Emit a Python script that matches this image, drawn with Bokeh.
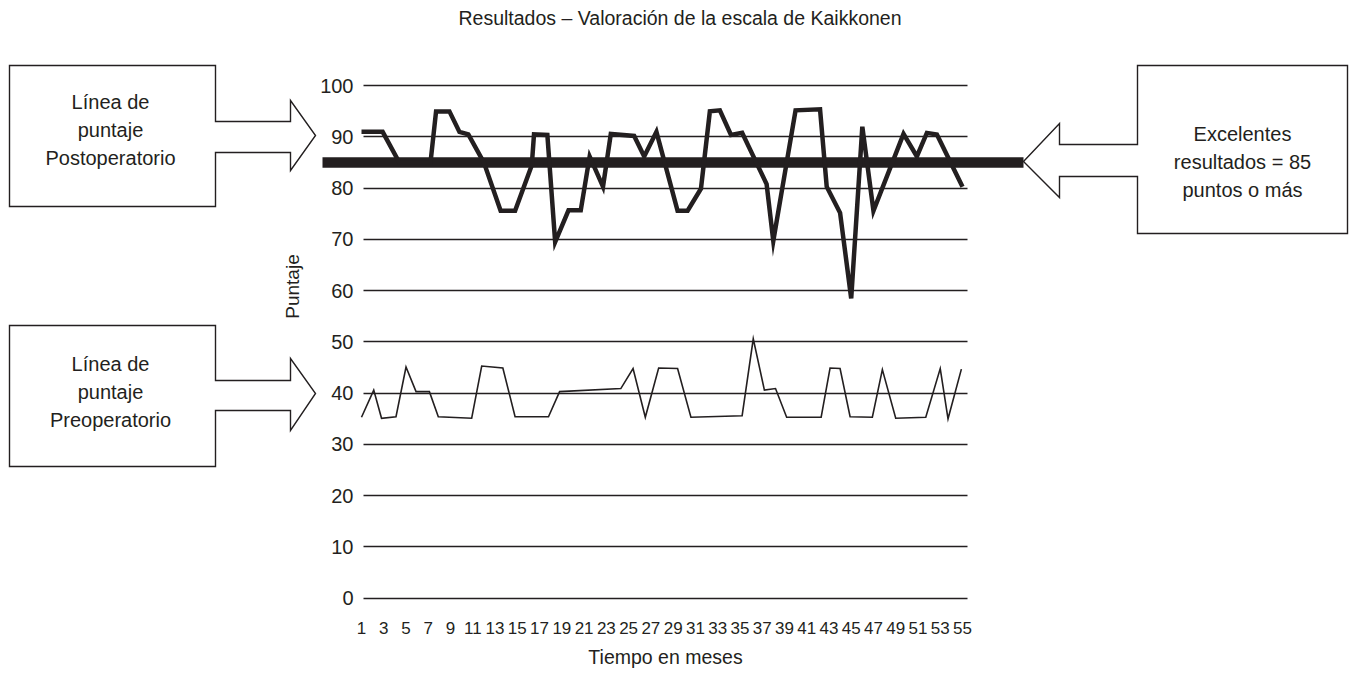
from math import pi
from bokeh.plotting import figure
from bokeh.models import Range1d, LinearAxis, FixedTicker, Grid, Label
from bokeh.embed import file_html
from bokeh.resources import INLINE

# ---------------- data ----------------
TITLE = "Resultados – Valoración de la escala de Kaikkonen"
X_LABEL = "Tiempo en meses"
Y_LABEL = "Puntaje"
x_ticks = list(range(1, 56, 2))
y_ticks = list(range(0, 101, 10))
EXCELLENT = 85

post_months = [1.0, 2.9, 4.4, 7.2, 7.7, 8.9, 9.8, 10.6, 12.0, 13.5,
               14.8, 16.3, 16.5, 17.7, 18.4, 19.6, 20.7, 21.5, 22.7, 23.4,
               25.5, 26.4, 27.5, 29.4, 30.3, 31.5, 32.3, 33.2, 34.2, 35.2,
               37.4, 38.0, 40.0, 42.2, 42.8, 44.0, 45.0, 46.0, 47.0, 49.7,
               50.9, 51.8, 52.7, 55.0]
post_scores = [91, 91, 85, 85, 95, 95, 91, 90.5, 85, 75.6,
               75.6, 84.5, 90.5, 90.4, 69.5, 75.7, 75.7, 86.2, 80.3, 90.6,
               90.2, 86.2, 91, 75.6, 75.6, 79.9, 95, 95.2, 90.4, 90.8,
               80.8, 69.7, 95.2, 95.4, 80.3, 75.2, 58.5, 92, 75.6, 90.6,
               86.2, 90.8, 90.5, 80.3]

pre_months = [1.0, 2.1, 2.8, 4.1, 5.0, 5.9, 7.1, 7.9, 10.9, 11.8,
              13.7, 14.8, 17.8, 18.8, 24.3, 25.4, 26.5, 27.7, 29.4, 30.6,
              35.2, 36.2, 37.2, 38.2, 39.2, 42.3, 43.1, 44.0, 44.9, 46.9,
              47.8, 49.0, 51.7, 53.0, 53.7, 54.9]
pre_scores = [35.3, 40.6, 35.1, 35.4, 45.1, 40.3, 40.3, 35.4, 35.1, 45.3,
              44.9, 35.4, 35.4, 40.3, 40.9, 44.8, 35.3, 44.9, 44.8, 35.3,
              35.6, 50.6, 40.6, 40.9, 35.3, 35.3, 44.9, 44.8, 35.4, 35.3,
              44.6, 35.1, 35.3, 44.8, 35.0, 44.7]

callout_post = ["Línea de", "puntaje", "Postoperatorio"]
callout_pre = ["Línea de", "puntaje", "Preoperatorio"]
callout_exc = ["Excelentes", "resultados = 85", "puntos o más"]

# ---------------- layout helpers (page pixels -> data units) ----------------
W, H = 1350, 673
OFF = 0
INK = "#231f20"
FONT = "Liberation Sans"


def mx(px):
    return 1 + (px - 361) * 54 / 601


def vy(py):
    return (597.6 - py) / 5.1234


p = figure(width=W, height=H,
           x_range=Range1d(mx(OFF), mx(OFF + W)),
           y_range=Range1d(vy(OFF + H), vy(OFF)),
           x_axis_type=None, y_axis_type=None,
           toolbar_location=None, output_backend="svg",
           min_border=0, outline_line_color=None,
           background_fill_color="white", border_fill_color="white")

# axes drawn at fixed positions inside the canvas
xaxis = LinearAxis(ticker=FixedTicker(ticks=x_ticks), fixed_location=vy(600),
                   axis_line_color=None, major_tick_line_color=None,
                   minor_tick_line_color=None, major_tick_out=0, major_tick_in=0,
                   minor_tick_out=0, minor_tick_in=0, major_label_standoff=21,
                   major_label_text_font=FONT, major_label_text_font_size="17px",
                   major_label_text_color=INK)
p.add_layout(xaxis, "below")

yaxis = LinearAxis(ticker=FixedTicker(ticks=y_ticks), fixed_location=mx(363),
                   axis_line_color=None, major_tick_line_color=None,
                   minor_tick_line_color=None, major_tick_out=0, major_tick_in=0,
                   minor_tick_out=0, minor_tick_in=0, major_label_standoff=10,
                   major_label_text_font=FONT, major_label_text_font_size="20px",
                   major_label_text_color=INK)
p.add_layout(yaxis, "left")

grid = Grid(dimension=1, ticker=FixedTicker(ticks=y_ticks),
            cross_bounds=(mx(363), mx(967)),
            grid_line_color=INK, grid_line_width=1.7)
p.add_layout(grid)

# threshold band (85 points)
p.line([mx(322), mx(1023)], [EXCELLENT, EXCELLENT], line_width=10.5,
       line_color=INK, line_cap="butt")

# series
p.line(post_months, post_scores, line_width=4.5, line_color=INK, line_join="miter")
p.line(pre_months, pre_scores, line_width=1.6, line_color=INK, line_join="miter")


# callout shapes
def shape(pts):
    p.patch([mx(a) for a, b in pts], [vy(b) for a, b in pts],
            fill_color="white", line_color=INK, line_width=1.4, line_join="miter")


shape([(9, 65), (215, 65), (215, 121), (290, 121), (290, 100), (315, 135),
       (290, 170), (290, 152), (215, 152), (215, 206), (9, 206)])
shape([(9, 325), (215, 325), (215, 380), (290, 380), (290, 358), (315, 393),
       (290, 430), (290, 410), (215, 410), (215, 466), (9, 466)])
shape([(1347, 65), (1137, 65), (1137, 144), (1059, 144), (1059, 123), (1023, 161),
       (1059, 197), (1059, 176), (1137, 176), (1137, 233), (1347, 233)])


def text(txt, px, py, size="20px", align="center", angle=0.0):
    p.add_layout(Label(x=mx(px), y=vy(py), text=txt, text_align=align,
                       text_baseline="middle", text_font=FONT,
                       text_font_size=size, text_color=INK, angle=angle))


for i, t in enumerate(callout_post):
    text(t, 110, 101 + 28 * i)
for i, t in enumerate(callout_pre):
    text(t, 110, 363.5 + 28 * i)
for i, t in enumerate(callout_exc):
    text(t, 1242, 133 + 28 * i)

text(TITLE, 458, 17.5, size="19.5px", align="left")
text(X_LABEL, 665, 656, size="19.5px")
text(Y_LABEL, 292, 286, size="19px", angle=pi / 2)

open("out.html", "w").write(file_html(p, INLINE))
